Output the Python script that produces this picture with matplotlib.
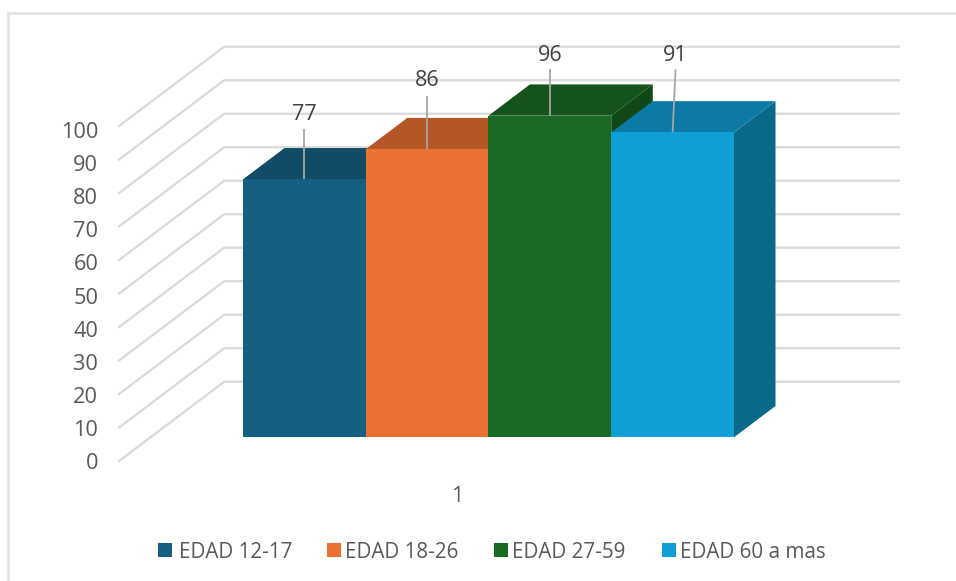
import matplotlib
matplotlib.use("Agg")
import matplotlib.pyplot as plt
from matplotlib.lines import Line2D
from matplotlib.patches import Polygon, Rectangle

plt.rcParams["font.family"] = ["Open Sans", "DejaVu Sans"]

# Survey results by age group
series_names = ["EDAD 12-17", "EDAD 18-26", "EDAD 27-59", "EDAD 60 a mas"]
series_values = [77, 86, 96, 91]
category_label = "1"
axis_ticks = [0, 10, 20, 30, 40, 50, 60, 70, 80, 90, 100]

face_colors = ["#156082", "#E97132", "#196B24", "#0F9ED5"]
top_colors = ["#114B65", "#B35726", "#14531C", "#0C7AA5"]
side_colors = ["#0E4258", "#9C4C21", "#0F4716", "#0A6888"]

W, H = 956, 581
TEXT = "#595959"
GRID = "#DADADA"

# Oblique projection scales (pixels per unit)
BAR_PX = 122.75
VALUE_PX = 3.35
DEPTH_DX = 41.5
DEPTH_DY = 31.3
X0_PX = 243.0
Y0_PX = 437.3

WALL_BACK = 1.776
WALL_FRONT = -0.78
GRID_RIGHT = 900.0

fig = plt.figure(figsize=(W / 100, H / 100), dpi=100, facecolor="white")
ax = fig.add_axes([0, 0, 1, 1])
ax.set_xlim(-X0_PX / BAR_PX, (W - X0_PX) / BAR_PX)
ax.set_ylim(-(H - Y0_PX) / VALUE_PX, Y0_PX / VALUE_PX)
ax.axis("off")


def project(x, value, depth=0.0):
    """Bar-plane data coordinates of a point pushed back by `depth`."""
    return (x + depth * DEPTH_DX / BAR_PX, value + depth * DEPTH_DY / VALUE_PX)


# Chart frame: only the top and left edges fall inside the canvas
frame_color = "#E4E4E4"
fig.add_artist(Line2D([7.5 / W, 7.5 / W], [0, 1 - 12.5 / H], color=frame_color, linewidth=2.0))
fig.add_artist(Line2D([7.5 / W, 1], [1 - 12.5 / H, 1 - 12.5 / H], color=frame_color, linewidth=2.0))

# Walls: diagonal on the side wall, then horizontal along the back wall
right_x = (GRID_RIGHT - X0_PX) / BAR_PX - WALL_BACK * DEPTH_DX / BAR_PX
left_x = -(X0_PX - 150.5) / BAR_PX
for tick in axis_ticks:
    pts = [project(left_x, tick, WALL_FRONT),
           project(left_x, tick, WALL_BACK),
           project(right_x, tick, WALL_BACK)]
    ax.plot(*zip(*pts), color=GRID, linewidth=1.6, zorder=1,
            solid_joinstyle="miter", solid_capstyle="butt")
    lx, ly = project(left_x, tick, WALL_FRONT)
    # Axis labels sit on a slightly tighter pitch than the wall lines
    ax.text(lx - 20 / BAR_PX, ly - (1.8 + 0.04 * tick) / VALUE_PX, str(tick),
            ha="right", va="center", fontsize=15.7, color=TEXT, zorder=5)

# Bars, drawn left to right so each one overlaps its neighbour's side
for i, value in enumerate(series_values):
    x1, x2 = i, i + 1
    z = 2 + i
    side = [project(x2, 0), project(x2, 0, 1), project(x2, value, 1), project(x2, value)]
    top = [project(x1, value), project(x1, value, 1), project(x2, value, 1), project(x2, value)]
    ax.add_patch(Polygon(side, closed=True, facecolor=side_colors[i], edgecolor="none", zorder=z))
    ax.add_patch(Polygon(top, closed=True, facecolor=top_colors[i], edgecolor="none", zorder=z))
    ax.add_patch(Rectangle((x1, 0), 1, value, facecolor=face_colors[i], edgecolor="none", zorder=z))

# Value labels with leader lines (offsets in value units, x shift in bars)
label_rise = [19.4, 20.4, 17.9, 22.9]
leader_gap = [4.5, 4.5, 4.0, 4.1]
label_shift = [0.0, 0.0, 0.0, 0.024]
for i, value in enumerate(series_values):
    cx = i + 0.5
    tx = cx + label_shift[i]
    ty = value + label_rise[i]
    ax.plot([tx, cx], [ty - leader_gap[i], value], color="#A6A6A6", linewidth=1.3, zorder=8,
            solid_capstyle="butt")
    ax.text(tx, ty, str(value), ha="center", va="center", fontsize=15.5, color="#404040", zorder=9)

# Category label under the bars
ax.text((457 - X0_PX) / BAR_PX, -(496 - Y0_PX) / VALUE_PX, category_label,
        ha="center", va="center", fontsize=15.5, color=TEXT)

# Legend row
swatch_px = [158, 327, 494, 662]
label_px = [179, 345, 512, 680]
for name, color, sx, lx in zip(series_names, face_colors, swatch_px, label_px):
    fig.add_artist(Rectangle((sx / W, 1 - 557 / H), 14 / W, 14 / H, transform=fig.transFigure,
                             facecolor=color, edgecolor="none"))
    fig.text(lx / W, 1 - 552 / H, name, ha="left", va="center", fontsize=14.9, color=TEXT)

fig.savefig("out.png", dpi=100)
